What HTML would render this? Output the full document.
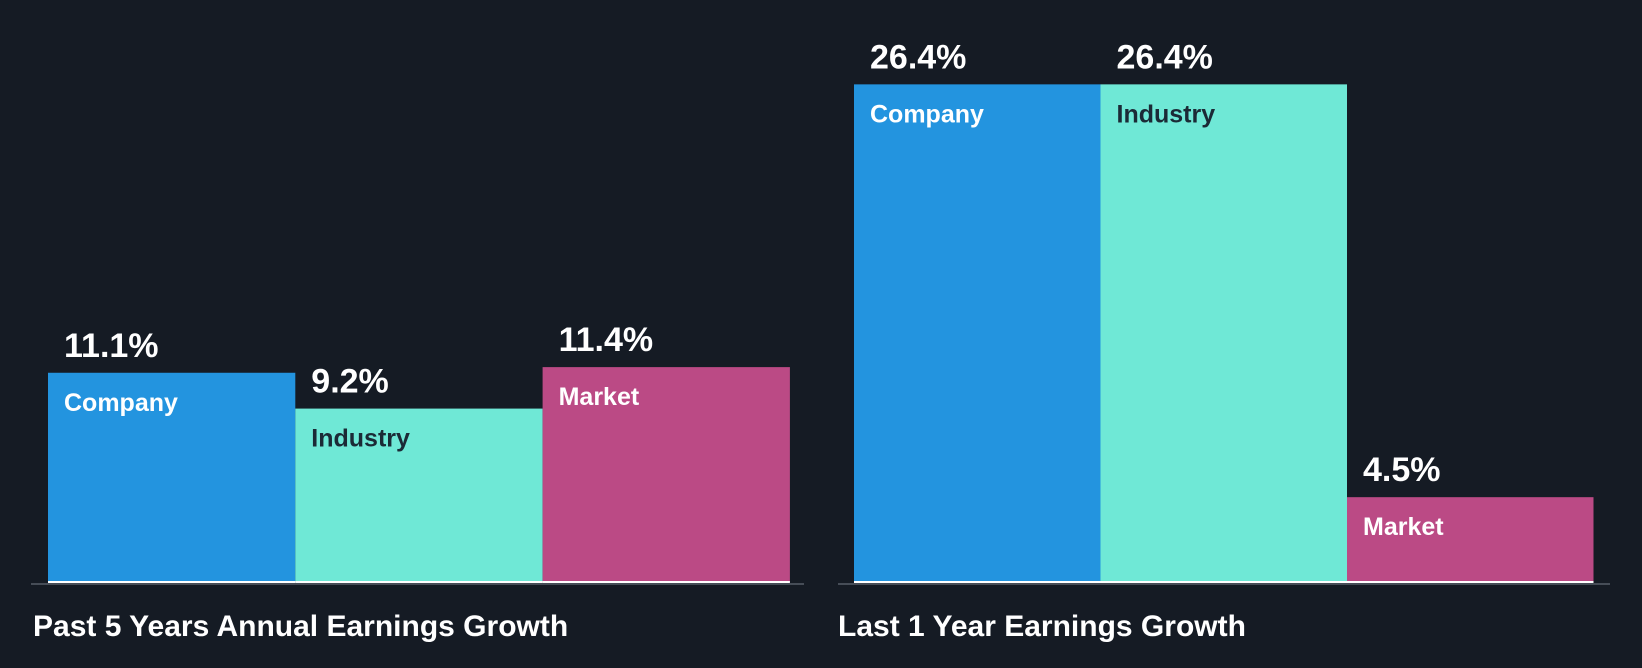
<!DOCTYPE html>
<html><head><meta charset="utf-8"><style>
html,body{margin:0;padding:0;background:#151b24;}
svg{display:block;font-family:"Liberation Sans",Arial,sans-serif;font-weight:bold;}
</style></head><body>
<svg id="chart" width="1642" height="668" viewBox="0 0 1642 668">
<rect x="0" y="0" width="1642" height="668" fill="#151b24"/>
<g id="g"></g>
</svg>
<script>
const categories = ["Company", "Industry", "Market"];
const past5Values = [11.1, 9.2, 11.4];
const last1Values = [26.4, 26.4, 4.5];
const panelTitles = ["Past 5 Years Annual Earnings Growth", "Last 1 Year Earnings Growth"];

const colors = ["#2394df", "#6fe8d6", "#bb4a85"];
const textColors = ["#ffffff", "#1b2a36", "#ffffff"];
const NS = "http://www.w3.org/2000/svg";
const g = document.getElementById("g");
const baseY = 582, pxPerUnit = 18.85;
function yScale(v){ return baseY - v * pxPerUnit; }
function mk(tag, attrs){ const e = document.createElementNS(NS, tag); for (const k in attrs) e.setAttribute(k, attrs[k]); g.appendChild(e); return e; }

const panels = [
  {x0: 48, barW: 247.3, axisX1: 31, axisX2: 804, titleX: 33, values: past5Values, key: "past-5-years"},
  {x0: 854, barW: 246.5, axisX1: 838, axisX2: 1610, titleX: 838, values: last1Values, key: "last-1-year"}
];
panels.forEach((p, pi) => {
  const barW = p.barW;
  const axis = mk("line", {x1: p.axisX1, x2: p.axisX2, y1: baseY + 2, y2: baseY + 2, stroke: "#464d57", "stroke-width": 2});
  
  
  p.values.forEach((v, i) => {
    const x = p.x0 + i * barW, top = yScale(v);
    const r = mk("rect", {x: x, y: top, width: barW, height: baseY - top, fill: colors[i]});
    
    
    const bl = mk("line", {x1: x, x2: x + barW, y1: baseY, y2: baseY, stroke: "#ffffff", "stroke-width": 2});
    
    
    const vt = mk("text", {x: x + 16, y: top - 16, fill: "#ffffff", "font-size": 34});
    vt.textContent = v.toFixed(1) + "%";
    
    
    const ct = mk("text", {x: x + 16, y: top + 38, fill: textColors[i], "font-size": 25});
    ct.textContent = categories[i];
    
    
  });
  const t = mk("text", {x: p.titleX, y: 636, fill: "#ffffff", "font-size": 30});
  t.textContent = panelTitles[pi];
  
  
});
</script>
</body></html>
